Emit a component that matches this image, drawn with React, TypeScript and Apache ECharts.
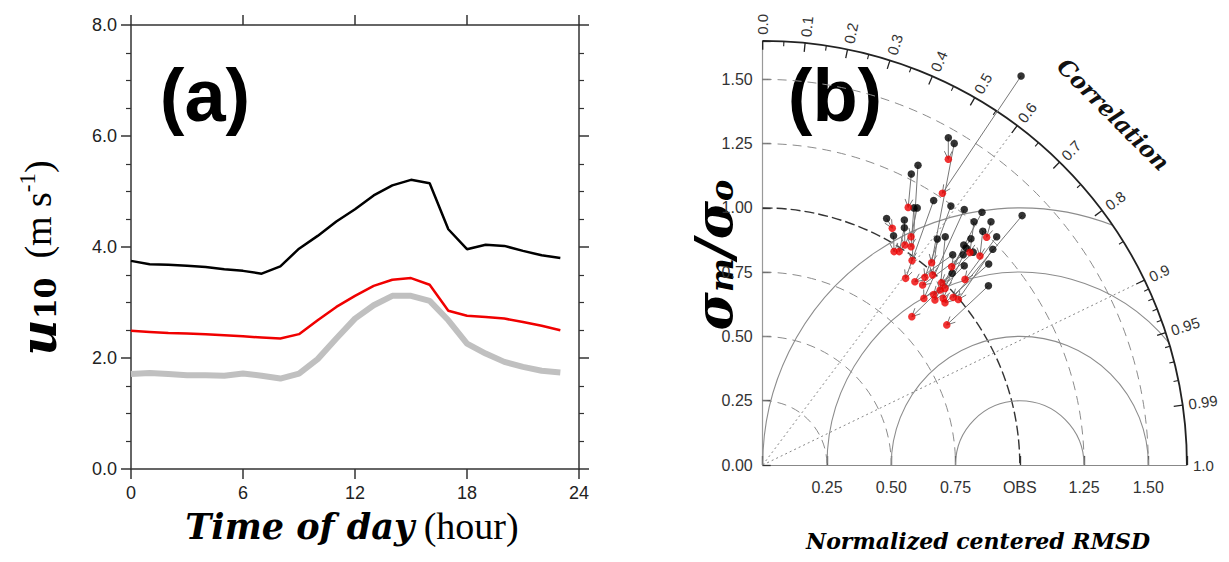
import React, { useEffect, useRef } from 'react';
import * as echarts from 'echarts';

// ---------- Panel (a): diurnal cycle of u10 ----------
const HOURS = [0, 1, 2, 3, 4, 5, 6, 7, 8, 9, 10, 11, 12, 13, 14, 15, 16, 17, 18, 19, 20, 21, 22, 23];
const U10_BLACK = [3.75, 3.69, 3.68, 3.66, 3.64, 3.60, 3.57, 3.52, 3.65, 3.97, 4.20, 4.46, 4.68, 4.93, 5.11, 5.21, 5.15, 4.32, 3.96, 4.04, 4.02, 3.93, 3.85, 3.80];
const U10_RED = [2.49, 2.47, 2.45, 2.44, 2.43, 2.41, 2.39, 2.37, 2.35, 2.43, 2.68, 2.92, 3.12, 3.30, 3.41, 3.44, 3.32, 2.85, 2.76, 2.74, 2.71, 2.65, 2.58, 2.50];
const U10_OBS = [1.71, 1.73, 1.71, 1.69, 1.69, 1.68, 1.72, 1.68, 1.63, 1.72, 1.98, 2.35, 2.71, 2.95, 3.12, 3.12, 3.03, 2.68, 2.26, 2.08, 1.93, 1.84, 1.77, 1.74];

// ---------- Panel (b): Taylor diagram (x = sigma*R, y = sigma*sqrt(1-R^2)) ----------
const TAYLOR_B_X = [1.005, 0.722, 0.745, 0.604, 0.578, 0.665, 0.732, 0.784, 0.853, 1.009, 0.482, 0.551, 0.822, 0.888, 0.551, 0.856, 0.509, 0.679, 0.710, 0.810, 0.910, 0.895, 0.782, 0.793, 0.819, 0.739, 0.780, 0.784, 0.879, 0.737, 0.878, 0.588, 0.601];
const TAYLOR_B_Y = [1.513, 1.273, 1.251, 1.166, 1.132, 1.029, 1.007, 0.994, 0.983, 0.970, 0.959, 0.953, 0.946, 0.946, 0.923, 0.909, 0.892, 0.879, 0.888, 0.880, 0.888, 0.839, 0.856, 0.843, 0.828, 0.818, 0.818, 0.775, 0.782, 0.746, 0.697, 1.000, 1.000];
const TAYLOR_R_X = [0.699, 0.722, 0.657, 0.581, 0.566, 0.556, 0.631, 0.627, 0.670, 0.741, 0.504, 0.553, 0.806, 0.871, 0.531, 0.845, 0.511, 0.661, 0.690, 0.735, 0.787, 0.761, 0.709, 0.702, 0.696, 0.592, 0.622, 0.580, 0.709, 0.665, 0.716, 0.577, 0.577];
const TAYLOR_R_Y = [1.057, 1.189, 0.787, 0.795, 1.002, 0.726, 0.730, 0.648, 0.642, 0.652, 0.921, 0.856, 0.827, 0.886, 0.830, 0.813, 0.830, 0.739, 0.681, 0.771, 0.722, 0.644, 0.687, 0.648, 0.709, 0.713, 0.700, 0.577, 0.631, 0.663, 0.545, 0.849, 0.888];

const TAYLOR_MAX = 1.65;
const STD_RADII = [0.25, 0.5, 0.75, 1.0, 1.25, 1.5];
const RMSD_RADII = [0.25, 0.5, 0.75, 1.0];
const CORR_MAJOR = [0, 0.1, 0.2, 0.3, 0.4, 0.5, 0.6, 0.7, 0.8, 0.9, 0.95, 0.99];
const CORR_MINOR = [0.05, 0.15, 0.25, 0.35, 0.45, 0.55, 0.65, 0.75, 0.85, 0.91, 0.92, 0.93, 0.94, 0.96, 0.97, 0.98];
const CORR_LABEL_VALUES = [0, 0.1, 0.2, 0.3, 0.4, 0.5, 0.6, 0.7, 0.8, 0.9, 0.95, 0.99, 1.0];
const CORR_LABELS = ['0.0', '0.1', '0.2', '0.3', '0.4', '0.5', '0.6', '0.7', '0.8', '0.9', '0.95', '0.99', '1.0'];
const CORR_DOTTED = [0.6, 0.9];

const SANS = '"Liberation Sans", Arial, Helvetica, sans-serif';
const SERIF_BI = '"DejaVu Serif", serif';
const SERIF = '"Liberation Serif", "Times New Roman", serif';

function bgRender(params: any, api: any) {
  const o = api.coord([0, 0]);
  const s = api.size([1, 1])[0];
  const R = TAYLOR_MAX * s;
  const P = (r: number, th: number) => [o[0] + r * Math.cos(th), o[1] - r * Math.sin(th)];
  const ch: any[] = [];
  STD_RADII.forEach((r) => {
    const dark = Math.abs(r - 1) < 1e-9;
    ch.push({
      type: 'arc',
      shape: { cx: o[0], cy: o[1], r: r * s, startAngle: -Math.PI / 2, endAngle: 0, clockwise: true },
      style: { fill: 'none', stroke: dark ? '#333' : '#8c8c8c', lineWidth: dark ? 1.4 : 1, lineDash: dark ? [10, 4] : [9, 6] },
    });
  });
  const c = api.coord([1, 0]);
  RMSD_RADII.forEach((r) => {
    const xi = (TAYLOR_MAX * TAYLOR_MAX - r * r + 1) / 2;
    let thc = 0;
    if (xi < 1 + r) {
      const yi = Math.sqrt(Math.max(0, TAYLOR_MAX * TAYLOR_MAX - xi * xi));
      thc = Math.atan2(yi, xi - 1);
    }
    ch.push({
      type: 'arc',
      shape: { cx: c[0], cy: c[1], r: r * s, startAngle: -Math.PI, endAngle: -thc, clockwise: true },
      style: { fill: 'none', stroke: '#8c8c8c', lineWidth: 1.1 },
    });
  });
  CORR_DOTTED.forEach((v) => {
    const p = P(R, Math.acos(v));
    ch.push({
      type: 'line',
      shape: { x1: o[0], y1: o[1], x2: p[0], y2: p[1] },
      style: { stroke: '#888', lineWidth: 1, lineDash: [2, 3] },
    });
  });
  ch.push({
    type: 'arc',
    shape: { cx: o[0], cy: o[1], r: R, startAngle: -Math.PI / 2, endAngle: 0, clockwise: true },
    style: { fill: 'none', stroke: '#222', lineWidth: 1.8 },
  });
  CORR_MAJOR.forEach((v) => {
    const th = Math.acos(v);
    const a = P(R, th), b = P(R - 9, th);
    ch.push({ type: 'line', shape: { x1: a[0], y1: a[1], x2: b[0], y2: b[1] }, style: { stroke: '#222', lineWidth: 1.3 } });
  });
  CORR_MINOR.forEach((v) => {
    const th = Math.acos(v);
    const a = P(R, th), b = P(R - 5, th);
    ch.push({ type: 'line', shape: { x1: a[0], y1: a[1], x2: b[0], y2: b[1] }, style: { stroke: '#222', lineWidth: 1.1 } });
  });
  CORR_LABEL_VALUES.forEach((v, i) => {
    const th = Math.acos(v);
    const p = P(R + 6, th);
    ch.push({
      type: 'text',
      x: p[0],
      y: p[1],
      rotation: th,
      style: {
        text: CORR_LABELS[i],
        fill: '#333',
        fontSize: 15,
        fontFamily: SANS,
        align: 'left',
        verticalAlign: 'middle',
        textAlign: 'left',
        textVerticalAlign: 'middle',
      },
    });
  });
  const tp = P(1.93 * s, Math.PI / 4);
  ch.push({
    type: 'text',
    x: tp[0],
    y: tp[1],
    rotation: -Math.PI / 4,
    style: {
      text: 'Correlation',
      fill: '#111',
      fontSize: 23,
      fontFamily: SERIF_BI,
      fontWeight: 'bold',
      fontStyle: 'italic',
      align: 'center',
      verticalAlign: 'middle',
      textAlign: 'center',
      textVerticalAlign: 'middle',
    },
  });
  return { type: 'group', children: ch };
}

function arrowRender(params: any, api: any) {
  const p1 = api.coord([api.value(0), api.value(1)]);
  const p2 = api.coord([api.value(2), api.value(3)]);
  const dx = p2[0] - p1[0];
  const dy = p2[1] - p1[1];
  const L = Math.hypot(dx, dy) || 1;
  const ux = dx / L, uy = dy / L;
  const a = 0.45, h = 9;
  const arm = (ang: number) => [
    p2[0] - h * (ux * Math.cos(ang) - uy * Math.sin(ang)),
    p2[1] - h * (ux * Math.sin(ang) + uy * Math.cos(ang)),
  ];
  return {
    type: 'group',
    children: [
      { type: 'line', shape: { x1: p1[0], y1: p1[1], x2: p2[0], y2: p2[1] }, style: { stroke: '#777', lineWidth: 1 } },
      { type: 'polyline', shape: { points: [arm(a), p2, arm(-a)] }, style: { stroke: '#777', lineWidth: 1, fill: 'none' } },
    ],
  };
}

export default function App() {
  const ref = useRef<HTMLDivElement>(null);
  useEffect(() => {
    if (!ref.current) return;
    const chart = echarts.init(ref.current, null, { renderer: 'svg' });

    const frameLine = { show: true, onZero: false, lineStyle: { color: '#333', width: 1.5 } };
    const outTick = { show: true, inside: false, length: 10, lineStyle: { color: '#333', width: 1.5 } };
    const pairs = TAYLOR_B_X.map((x, i) => [x, TAYLOR_B_Y[i], TAYLOR_R_X[i], TAYLOR_R_Y[i]]);

    const option: any = {
      animation: false,
      grid: [
        { left: 123, top: 17, width: 448, height: 444, show: false },
        { left: 754.7, top: 32.8, width: 424.2, height: 424.2, show: false },
      ],
      xAxis: [
        {
          gridIndex: 0, type: 'value', min: 0, max: 24, interval: 6, position: 'bottom',
          axisLine: frameLine, axisTick: outTick,
          axisLabel: { color: '#222', fontSize: 18, fontFamily: SANS, margin: 15 },
          splitLine: { show: false },
        },
        {
          gridIndex: 0, type: 'value', min: 0, max: 24, interval: 6, position: 'top',
          axisLine: frameLine, axisTick: outTick, axisLabel: { show: false }, splitLine: { show: false },
        },
        {
          gridIndex: 1, type: 'value', min: 0, max: TAYLOR_MAX, interval: 0.25, position: 'bottom',
          axisLine: { show: true, onZero: false, lineStyle: { color: '#888', width: 1.2 } },
          axisTick: { show: true, inside: true, length: 9, lineStyle: { color: '#333', width: 1.3 } },
          axisLabel: {
            color: '#333', fontSize: 16, fontFamily: SANS, margin: 14,
            formatter: (v: number) => (v < 0.01 || v > 1.6 ? '' : Math.abs(v - 1) < 1e-9 ? 'OBS' : v.toFixed(2)),
          },
          splitLine: { show: false },
        },
      ],
      yAxis: [
        {
          gridIndex: 0, type: 'value', min: 0, max: 8, interval: 2, position: 'left',
          axisLine: frameLine, axisTick: outTick,
          minorTick: { show: true, splitNumber: 4, length: 5, lineStyle: { color: '#333', width: 1.2 } },
          axisLabel: { color: '#222', fontSize: 18, fontFamily: SANS, margin: 14, formatter: (v: number) => v.toFixed(1) },
          splitLine: { show: false }, minorSplitLine: { show: false },
        },
        {
          gridIndex: 0, type: 'value', min: 0, max: 8, interval: 2, position: 'right',
          axisLine: frameLine, axisTick: outTick,
          minorTick: { show: true, splitNumber: 4, length: 5, lineStyle: { color: '#333', width: 1.2 } },
          axisLabel: { show: false }, splitLine: { show: false }, minorSplitLine: { show: false },
        },
        {
          gridIndex: 1, type: 'value', min: 0, max: TAYLOR_MAX, interval: 0.25, position: 'left',
          axisLine: { show: true, onZero: false, lineStyle: { color: '#999', width: 1.2 } },
          axisTick: { show: true, inside: true, length: 8, lineStyle: { color: '#333', width: 1.3 } },
          axisLabel: {
            color: '#333', fontSize: 16, fontFamily: SANS, margin: 10,
            formatter: (v: number) => (v > 1.6 ? '' : v.toFixed(2)),
          },
          splitLine: { show: false },
        },
      ],
      series: [
        {
          type: 'line', xAxisIndex: 0, yAxisIndex: 0, symbol: 'none', z: 2,
          data: HOURS.map((h, i) => [h, U10_OBS[i]]),
          lineStyle: { color: '#c0c0c0', width: 6 },
        },
        {
          type: 'line', xAxisIndex: 0, yAxisIndex: 0, symbol: 'none', z: 3,
          data: HOURS.map((h, i) => [h, U10_RED[i]]),
          lineStyle: { color: '#f00000', width: 2.5 },
        },
        {
          type: 'line', xAxisIndex: 0, yAxisIndex: 0, symbol: 'none', z: 4,
          data: HOURS.map((h, i) => [h, U10_BLACK[i]]),
          lineStyle: { color: '#000', width: 2.5 },
        },
        {
          type: 'custom', xAxisIndex: 2, yAxisIndex: 2, silent: true, clip: false, z: 1,
          data: [[0, 0]], renderItem: bgRender,
        },
        {
          type: 'custom', xAxisIndex: 2, yAxisIndex: 2, silent: true, clip: false, z: 2,
          data: pairs, renderItem: arrowRender,
        },
        {
          type: 'scatter', xAxisIndex: 2, yAxisIndex: 2, symbolSize: 7.5, z: 3, silent: true,
          itemStyle: { color: '#000' },
          data: TAYLOR_B_X.map((x, i) => [x, TAYLOR_B_Y[i]]),
        },
        {
          type: 'scatter', xAxisIndex: 2, yAxisIndex: 2, symbolSize: 7.5, z: 4, silent: true,
          itemStyle: { color: '#ee0000' },
          data: TAYLOR_R_X.map((x, i) => [x, TAYLOR_R_Y[i]]),
        },
      ],
      graphic: [
        {
          type: 'text', x: 197, y: 87,
          style: {
            text: '(a)', fill: '#000', fontSize: 74, fontWeight: 'bold', fontFamily: SANS,
            align: 'center', verticalAlign: 'middle', textAlign: 'center', textVerticalAlign: 'middle',
          },
        },
        {
          type: 'text', x: 827, y: 87,
          style: {
            text: '(b)', fill: '#000', fontSize: 74, fontWeight: 'bold', fontFamily: SANS,
            align: 'center', verticalAlign: 'middle', textAlign: 'center', textVerticalAlign: 'middle',
          },
        },
        {
          type: 'text', x: 30, y: 250, rotation: Math.PI / 2,
          style: {
            text: '{u|u}{s|10}{n|  (m s}{p|-1}{n|)}',
            align: 'center', verticalAlign: 'middle', textAlign: 'center', textVerticalAlign: 'middle',
            rich: {
              u: { fontSize: 50, fontWeight: 'bold', fontStyle: 'italic', fontFamily: SERIF_BI, fill: '#000', lineHeight: 44, verticalAlign: 'middle' },
              s: { fontSize: 30, fontWeight: 'bold', fontFamily: SERIF_BI, fill: '#000', lineHeight: 24, verticalAlign: 'bottom' },
              n: { fontSize: 38, fontFamily: SERIF, fill: '#000', lineHeight: 42, verticalAlign: 'middle' },
              p: { fontSize: 23, fontFamily: SERIF, fill: '#000', lineHeight: 22, verticalAlign: 'top' },
            },
          },
        },
        {
          type: 'text', x: 344, y: 518,
          style: {
            text: '{t|Time of day}{h| (hour)}',
            align: 'center', verticalAlign: 'middle', textAlign: 'center', textVerticalAlign: 'middle',
            rich: {
              t: { fontSize: 35, fontWeight: 'bold', fontStyle: 'italic', fontFamily: SERIF_BI, fill: '#000' },
              h: { fontSize: 38, fontFamily: SERIF, fill: '#000' },
            },
          },
        },
        {
          type: 'text', x: 705, y: 247, rotation: Math.PI / 2,
          style: {
            text: '{a|σ}{s|m}{a|/σ}{s|o}',
            align: 'center', verticalAlign: 'middle', textAlign: 'center', textVerticalAlign: 'middle',
            rich: {
              a: { fontSize: 52, fontWeight: 'bold', fontStyle: 'italic', fontFamily: SERIF_BI, fill: '#000', lineHeight: 50, verticalAlign: 'middle' },
              s: { fontSize: 32, fontWeight: 'bold', fontStyle: 'italic', fontFamily: SERIF_BI, fill: '#000', lineHeight: 26, verticalAlign: 'bottom' },
            },
          },
        },
        {
          type: 'text', x: 970, y: 533,
          style: {
            text: 'Normalized centered RMSD', fill: '#000', fontSize: 22, fontWeight: 'bold', fontStyle: 'italic',
            fontFamily: SERIF_BI, align: 'center', verticalAlign: 'middle', textAlign: 'center', textVerticalAlign: 'middle',
          },
        },
      ],
    };
    chart.setOption(option);
    return () => chart.dispose();
  }, []);
  return <div ref={ref} style={{ width: 1213, height: 546 }} />;
}
